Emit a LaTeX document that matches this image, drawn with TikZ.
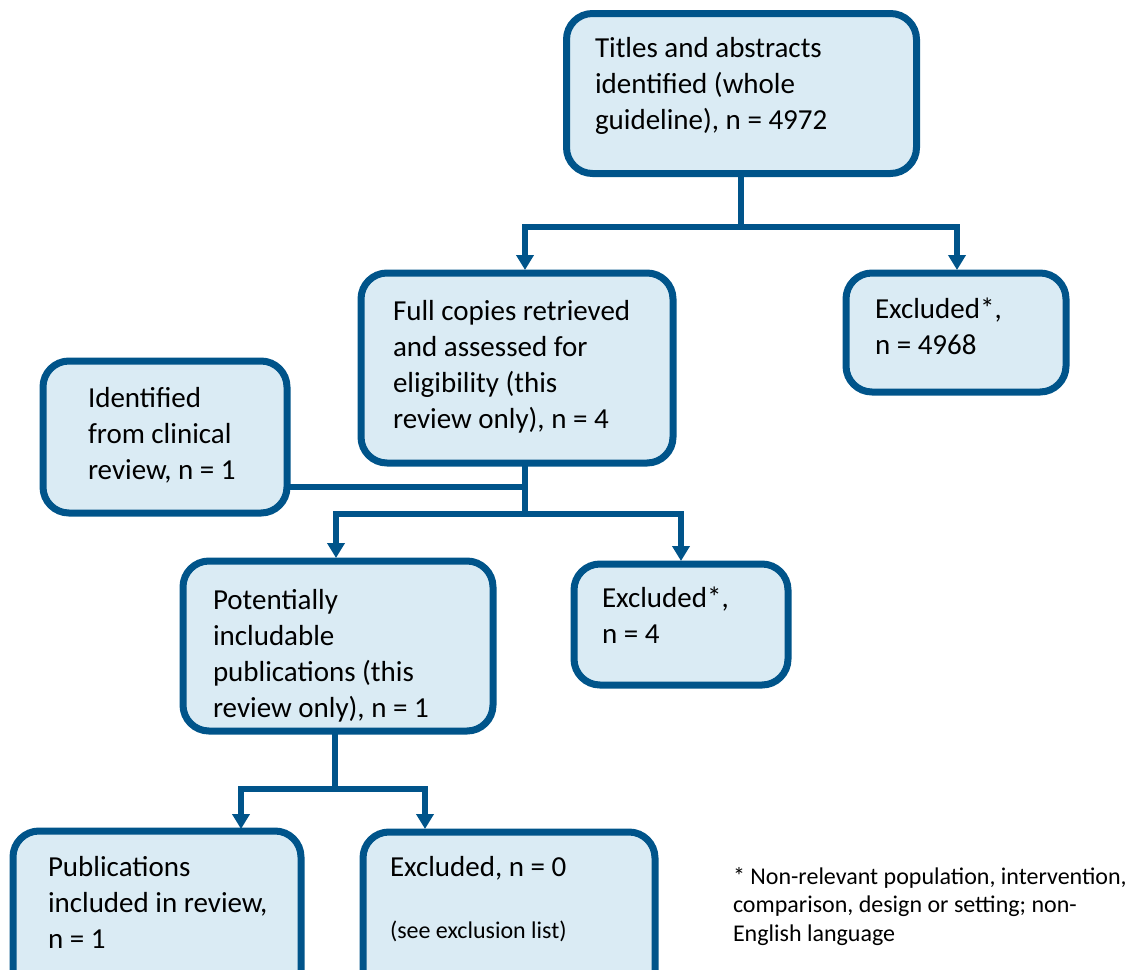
\documentclass[tikz,border=0pt]{standalone}
\usepackage{fontspec}
\setmainfont{Carlito}
\usetikzlibrary{arrows.meta}
\definecolor{bdr}{RGB}{0,84,138}
\definecolor{fll}{RGB}{218,235,244}
\newcommand{\boxtext}[2]{\parbox[t]{#1pt}{\raggedright #2}}
\tikzset{
  box/.style={draw=bdr, fill=fll, line width=7pt, rounded corners=26pt, inner sep=0pt, outer sep=0pt},
  lbl/.style={anchor=base west, inner sep=0pt, outer sep=0pt, font=\fontsize{29}{36}\selectfont},
  small/.style={anchor=base west, inner sep=0pt, outer sep=0pt, font=\fontsize{24}{29}\selectfont},
  note/.style={anchor=base west, inner sep=0pt, outer sep=0pt, font=\fontsize{24}{28.5}\selectfont},
  conn/.style={draw=bdr, line width=6pt, line join=miter},
  arr/.style={conn, -{Triangle[width=17pt,length=15pt]}}
}
\begin{document}
\begin{tikzpicture}[x=1pt,y=-1pt]
\useasboundingbox (0,0) rectangle (1139,969);
\clip (0,0) rectangle (1139,969);
% boxes
\node[box, minimum width=350pt, minimum height=160pt] (top) at (741.5,93.5) {};
\node[box, minimum width=312pt, minimum height=190pt] (full) at (517,368) {};
\node[box, minimum width=220pt, minimum height=119pt] (exA) at (956,332.5) {};
\node[box, minimum width=244pt, minimum height=152pt] (ident) at (165,437) {};
\node[box, minimum width=310pt, minimum height=170pt] (pot) at (338,646) {};
\node[box, minimum width=214pt, minimum height=121pt] (exB) at (681,624.5) {};
\node[box, minimum width=288pt, minimum height=180pt] (pubs) at (157,921) {};
\node[box, minimum width=292pt, minimum height=180pt] (exC) at (509,922) {};
% texts
\node[lbl] (ttop) at (595,57) {\boxtext{320}{Titles and abstracts\\identified (whole\\guideline), n = 4972}};
\node[lbl] (tfull) at (393,320) {\boxtext{290}{Full copies retrieved\\and assessed for\\eligibility (this\\review only), n = 4}};
\node[lbl] (texA) at (875,318) {\boxtext{190}{Excluded*,\\n = 4968}};
\node[lbl] (tident) at (88,407) {\boxtext{200}{Identified\\from clinical\\review, n = 1}};
\node[lbl] (tpot) at (213,609) {\boxtext{290}{Potentially\\includable\\publications (this\\review only), n = 1}};
\node[lbl] (texB) at (602,607) {\boxtext{180}{Excluded*,\\n = 4}};
\node[lbl] (tpubs) at (48,876) {\boxtext{260}{Publications\\included in review,\\n = 1}};
\node[lbl] (texC) at (390,876) {\boxtext{260}{Excluded, n = 0}};
\node[small] (texC2) at (390,938) {(see exclusion list)};
\node[note] (tnote) at (733,884) {\boxtext{420}{* Non-relevant population, intervention,\\comparison, design or setting; non-\\English language}};
% junction coordinates
\coordinate (j1) at (741,227);
\coordinate (inFull) at (525,270);
\coordinate (inExA) at (957,270);
\coordinate (j2) at (525,514);
\coordinate (inPot) at (336,558);
\coordinate (inExB) at (681,561);
\coordinate (j3) at (335,789);
\coordinate (inPubs) at (241,829);
\coordinate (inExC) at (425,829);
% connectors
\draw[conn] (top.south -| j1) -- (j1);
\draw[arr] (j1) -| (inFull);
\draw[arr] (j1) -| (inExA);
\draw[conn] (full.south -| j2) -- (j2);
\draw[conn] (ident.east |- 0,487) -- (j2 |- 0,487);
\draw[arr] (j2) -| (inPot);
\draw[arr] (j2) -| (inExB);
\draw[conn] (pot.south -| j3) -- (j3);
\draw[arr] (j3) -| (inPubs);
\draw[arr] (j3) -| (inExC);
\end{tikzpicture}
\end{document}
